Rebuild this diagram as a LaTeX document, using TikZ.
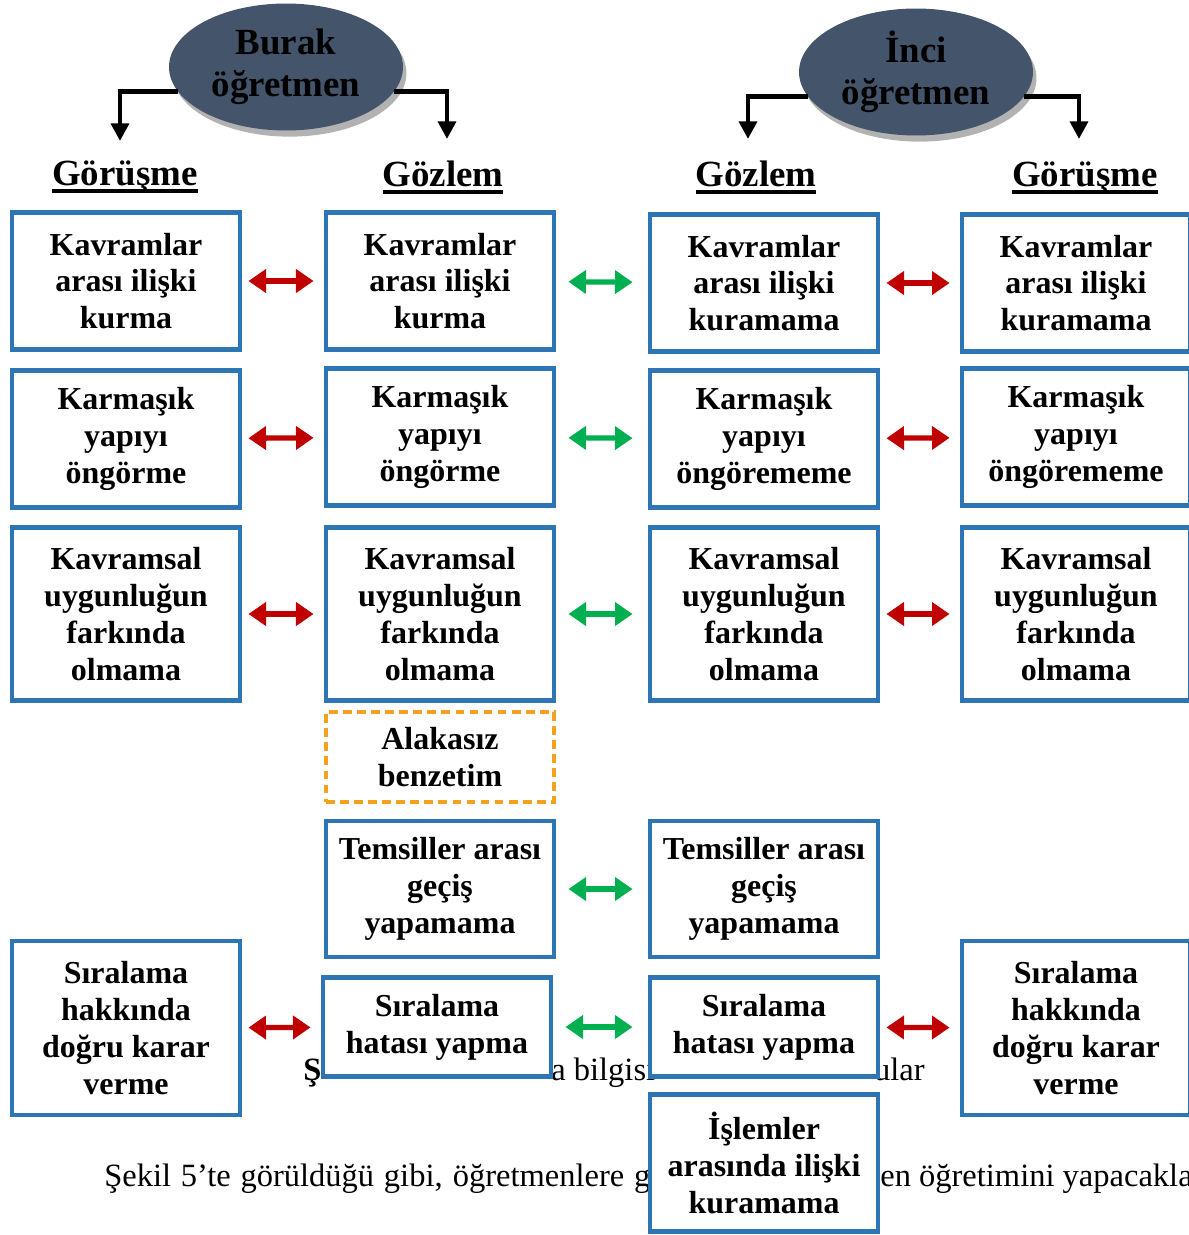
\documentclass[tikz,border=0pt]{standalone}
\usepackage{fontspec}
\setmainfont{Liberation Serif}
\usepackage{tikz}
\usetikzlibrary{
  arrows.meta,
  shadows,
  shapes.geometric,
  positioning}

\definecolor{kutumavi}{RGB}{46,117,182}
\definecolor{okkirmizi}{RGB}{192,0,0}
\definecolor{okyesil}{RGB}{0,176,80}
\definecolor{elipsgri}{RGB}{68,84,106}
\definecolor{kesikturuncu}{RGB}{245,160,30}

\newsavebox{\cizgikutu}
\newcommand{\altcizgi}[1]{\sbox{\cizgikutu}{#1}\rlap{\usebox{\cizgikutu}}\vrule width \wd\cizgikutu height -2.4pt depth 4.7pt}

\tikzset{
  kutu/.style={draw=kutumavi, line width=2.8pt, fill=white, minimum width=4.56cm,
    inner sep=2pt, align=center, font=\fontsize{18.2}{21}\selectfont\bfseries},
  kesikkutu/.style={kutu, draw=kesikturuncu, line width=1.8pt, dash pattern=on 5pt off 3pt},
  ogretmen/.style={ellipse, fill=elipsgri, minimum width=4.68cm, minimum height=2.54cm,
    inner sep=0pt, align=center, font=\fontsize{21}{24}\selectfont\bfseries,
    drop shadow={shadow xshift=2pt, shadow yshift=-3.5pt, fill=black!30, opacity=1}},
  baslik/.style={anchor=base, inner sep=0pt, font=\fontsize{21}{24}\selectfont\bfseries},
  dirsek/.style={line width=2.8pt, -{Triangle[length=10pt,width=10pt]}},
  kirmiziok/.style={draw=okkirmizi, line width=3pt,
    {Triangle[length=10pt,width=13pt]}-{Triangle[length=10pt,width=13pt]},
    shorten <=0.12cm, shorten >=0.2cm},
  yesilok/.style={kirmiziok, draw=okyesil, shorten <=0.24cm, shorten >=0.3cm},
  artmetin/.style={inner sep=0pt, font=\fontsize{18.5}{21}\selectfont}
}

\begin{document}
\begin{tikzpicture}[x=0.02cm, y=-0.02cm]
            \useasboundingbox (0,0) rectangle (1189,1235);
            % metin arka planda
            \node (alt1) at (303,1080) [artmetin, anchor=base west, font=\fontsize{18.5}{21}\selectfont\bfseries] {Ş};
            \node (alt2) at (551,1080) [artmetin, anchor=base west] {a bilgisi};
            \node (alt3) at (925,1080) [artmetin, anchor=base east] {ular};
            \node (par1) at (104,1186) [artmetin, anchor=base west] {\makebox[10.92cm][s]{Şekil 5’te görüldüğü gibi, öğretmenlere g}};
            \node (par2) at (880,1186) [artmetin, anchor=base west] {en öğretimini yapacakla};

            % ogretmenler
            \node (burak) at (286,67) [ogretmen] {Burak\\öğretmen};
            \node (inci) at (916,72) [ogretmen] {İnci\\öğretmen};
            \node (gor1) at (125,185) [baslik] {\altcizgi{Görüşme}};
            \node (goz1) at (443,186) [baslik] {\altcizgi{Gözlem}};
            \node (goz2) at (756,186) [baslik] {\altcizgi{Gözlem}};
            \node (gor2) at (1085,186) [baslik] {\altcizgi{Görüşme}};
            \coordinate (uc1) at (120,141);
            \coordinate (uc2) at (447,139);
            \coordinate (uc3) at (748,139);
            \coordinate (uc4) at (1079,139);
            \draw[dirsek] (burak.193) -| (uc1);
            \draw[dirsek] (burak.347) -| (uc2);
            \draw[dirsek] (inci.193) -| (uc3);
            \draw[dirsek] (inci.347) -| (uc4);

            % kutular
            \node (kav1) at (126,281) [kutu, minimum height=2.74cm] {Kavramlar\\arası ilişki\\kurma};
            \node (kav2) at (440,281) [kutu, minimum height=2.74cm] {Kavramlar\\arası ilişki\\kurma};
            \node (kav3) at (764,283) [kutu, minimum height=2.74cm] {Kavramlar\\arası ilişki\\kuramama};
            \node (kav4) at (1076,283) [kutu, minimum height=2.74cm] {Kavramlar\\arası ilişki\\kuramama};
            \node (kar1) at (126,439) [kutu, minimum height=2.74cm] {Karmaşık\\yapıyı\\öngörme};
            \node (kar2) at (440,437) [kutu, minimum height=2.74cm] {Karmaşık\\yapıyı\\öngörme};
            \node (kar3) at (764,439) [kutu, minimum height=2.74cm] {Karmaşık\\yapıyı\\öngörememe};
            \node (kar4) at (1076,437) [kutu, minimum height=2.74cm] {Karmaşık\\yapıyı\\öngörememe};
            \node (uyg1) at (126,614) [kutu, minimum height=3.46cm] {Kavramsal\\uygunluğun\\farkında\\olmama};
            \node (uyg2) at (440,614) [kutu, minimum height=3.46cm] {Kavramsal\\uygunluğun\\farkında\\olmama};
            \node (uyg3) at (764,614) [kutu, minimum height=3.46cm] {Kavramsal\\uygunluğun\\farkında\\olmama};
            \node (uyg4) at (1076,614) [kutu, minimum height=3.46cm] {Kavramsal\\uygunluğun\\farkında\\olmama};
            \node (ala2) at (440,757) [kesikkutu, minimum height=1.8cm] {Alakasız\\benzetim};
            \node (tem2) at (440,889) [kutu, minimum height=2.72cm] {Temsiller arası\\geçiş\\yapamama};
            \node (tem3) at (764,889) [kutu, minimum height=2.72cm] {Temsiller arası\\geçiş\\yapamama};
            \node (sir1) at (126,1028) [kutu, minimum height=3.48cm] {Sıralama\\hakkında\\doğru karar\\verme};
            \node (hat2) at (437,1027) [kutu, minimum height=1.98cm] {Sıralama\\hatası yapma};
            \node (hat3) at (764,1027) [kutu, minimum height=1.98cm] {Sıralama\\hatası yapma};
            \node (sir4) at (1076,1028) [kutu, minimum height=3.48cm] {Sıralama\\hakkında\\doğru karar\\verme};
            \node (isl3) at (764,1163) [kutu, minimum height=2.74cm] {İşlemler\\arasında ilişki\\kuramama};

            % oklar
            \draw[kirmiziok] (kav1) -- (kav2);
            \draw[yesilok] (kav2) -- (kav3);
            \draw[kirmiziok] (kav3) -- (kav4);
            \draw[kirmiziok] (kar1) -- (kar2);
            \draw[yesilok] (kar2) -- (kar3);
            \draw[kirmiziok] (kar3) -- (kar4);
            \draw[kirmiziok] (uyg1) -- (uyg2);
            \draw[yesilok] (uyg2) -- (uyg3);
            \draw[kirmiziok] (uyg3) -- (uyg4);
            \draw[yesilok] (tem2) -- (tem3);
            \draw[kirmiziok] (sir1) -- (hat2);
            \draw[yesilok] (hat2) -- (hat3);
            \draw[kirmiziok] (hat3) -- (sir4);
        \end{tikzpicture}
\end{document}
